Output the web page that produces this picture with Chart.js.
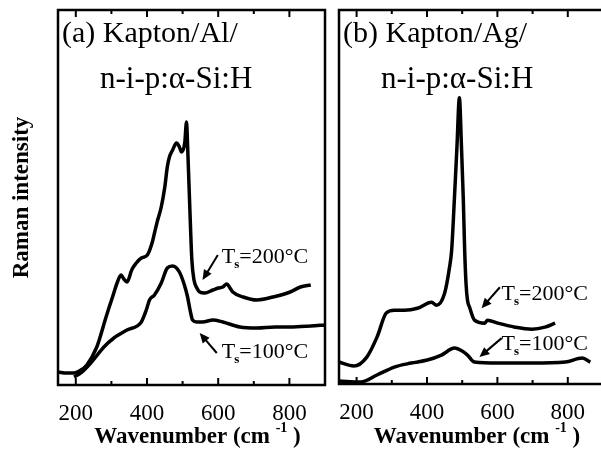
<!DOCTYPE html>
<html>
<head>
<meta charset="utf-8">
<script src="https://cdn.jsdelivr.net/npm/chart.js@4"></script>
<style>
  html, body { margin: 0; padding: 0; background: #fff; overflow: hidden; }
  #wrap { position: relative; width: 601px; height: 456px; overflow: hidden; background: #fff; }
  #ca { position: absolute; left: 0; top: 0; }
  #cb { position: absolute; left: 330px; top: 0; }
</style>
</head>
<body>
<div id="wrap">
  <canvas id="ca" width="335" height="456"></canvas>
  <canvas id="cb" width="280" height="456"></canvas>
</div>
<script>
/* ── Data (arbitrary intensity units) ── */
const WAVE_A200 = [150, 175, 195, 210, 231, 259, 285, 293, 305, 316, 327, 335, 344, 357, 370, 384, 401, 415, 421, 430, 440, 450, 457, 463, 472, 483, 491, 497, 506, 511, 514, 518, 522, 526, 532, 540, 548, 562, 585, 600, 613, 624, 635, 641, 670, 709, 754, 802, 831, 860];
const INT_A200  = [13, 12, 12, 14, 20, 38, 68, 77, 90, 102, 110, 106, 103, 115, 122, 127, 130, 143, 152, 165, 178, 198, 218, 228, 235, 242, 238, 233, 242, 263, 240, 200, 160, 125, 105, 97, 93, 92, 95, 97, 98, 101, 96, 93, 88, 85, 88, 93, 98, 100];

const WAVE_A100 = [195, 214, 242, 279, 307, 344, 384, 398, 407, 421, 440, 457, 472, 491, 505, 514, 521, 528, 540, 556, 585, 613, 661, 709, 760, 802, 860, 900];
const INT_A100  = [8, 12, 22, 38, 47, 55, 63, 75, 85, 90, 102, 117, 119, 113, 100, 88, 75, 65, 63, 63, 65, 63, 58, 57, 58, 58, 59, 60];

const WAVE_B200 = [150, 192, 229, 258, 284, 307, 336, 373, 413, 427, 450, 464, 470, 478, 485, 492, 498, 503, 507, 511, 515, 521, 535, 564, 572, 601, 650, 698, 735, 764];
const INT_B200  = [22, 18, 27, 47, 71, 74, 74, 76, 82, 79, 91, 117, 134, 187, 237, 287, 237, 187, 134, 100, 84, 77, 64, 61, 64, 61, 57, 55, 57, 61];

const WAVE_B100 = [150, 212, 258, 307, 355, 401, 441, 478, 500, 515, 535, 601, 698, 793, 841, 864];
const INT_B100  = [3, 2, 9, 17, 21, 24, 29, 36, 33, 29, 22, 21, 21, 22, 26, 22];

const X_MIN = 150, X_MAX = 900, X_STEP = 100;
const Y_MIN = 0, Y_MAX = 375;

const SERIF = '"Liberation Serif", "DejaVu Serif", serif';

/* ── Helpers ── */
const zip = (xs, ys) => xs.map((x, i) => ({ x, y: ys[i] }));

function series(xs, ys) {
  return {
    data: zip(xs, ys),
    borderColor: '#000',
    borderWidth: 3.5,
    pointRadius: 0,
    fill: false,
    cubicInterpolationMode: 'monotone',
  };
}

function arrow(ctx, x1, y1, x2, y2) {
  const ang = Math.atan2(y2 - y1, x2 - x1);
  const hl = 10, hw = 4.5;
  ctx.beginPath();
  ctx.moveTo(x1, y1);
  ctx.lineTo(x2 - Math.cos(ang) * hl * 0.8, y2 - Math.sin(ang) * hl * 0.8);
  ctx.stroke();
  ctx.beginPath();
  ctx.moveTo(x2, y2);
  ctx.lineTo(x2 - Math.cos(ang) * hl + Math.sin(ang) * hw, y2 - Math.sin(ang) * hl - Math.cos(ang) * hw);
  ctx.lineTo(x2 - Math.cos(ang) * hl - Math.sin(ang) * hw, y2 - Math.sin(ang) * hl + Math.cos(ang) * hw);
  ctx.closePath();
  ctx.fill();
}

/* ── Frame, inward ticks, labels, notes ── */
const panelDecor = {
  id: 'panelDecor',
  afterDraw(chart, args, opts) {
    const { ctx, chartArea: a, scales: { x, y } } = chart;
    ctx.save();
    ctx.strokeStyle = '#000';
    ctx.fillStyle = '#000';

    // frame
    ctx.lineWidth = 2.5;
    ctx.strokeRect(a.left, a.top, a.right - a.left, a.bottom - a.top);

    // inward ticks
    ctx.lineWidth = 2;
    x.ticks.forEach(t => {
      const px = x.getPixelForValue(t.value);
      const len = t.value % 200 === 0 ? 7 : 4;
      ctx.beginPath();
      ctx.moveTo(px, a.bottom); ctx.lineTo(px, a.bottom - len);
      ctx.moveTo(px, a.top);    ctx.lineTo(px, a.top + len);
      ctx.stroke();
    });

    // panel label
    ctx.textBaseline = 'alphabetic';
    ctx.textAlign = 'left';
    ctx.font = '30px ' + SERIF;
    ctx.fillText(opts.label1, a.left + 4, a.top + 32);
    ctx.font = '31px ' + SERIF;
    ctx.fillText(opts.label2, a.left + 42, a.top + 78);

    // x title with superscript
    const cx = (a.left + a.right) / 2 + 6;
    const by = 443;
    const p1 = 'Wavenumber (cm ', p3 = ' )';
    ctx.font = 'bold 14px ' + SERIF;
    const w2 = ctx.measureText('-1').width;
    ctx.font = 'bold 23px ' + SERIF;
    const w1 = ctx.measureText(p1).width, w3 = ctx.measureText(p3).width;
    let sx = cx - (w1 + w2 + w3) / 2;
    ctx.fillText(p1, sx, by); sx += w1;
    ctx.font = 'bold 14px ' + SERIF;
    ctx.fillText('-1', sx, by - 11); sx += w2;
    ctx.font = 'bold 23px ' + SERIF;
    ctx.fillText(p3, sx, by);

    // temperature notes with arrows
    ctx.lineWidth = 2;
    opts.notes.forEach(n => {
      let tx = x.getPixelForValue(n.x), ty = y.getPixelForValue(n.y);
      ctx.font = '22px ' + SERIF;
      ctx.fillText('T', tx, ty); tx += ctx.measureText('T').width;
      ctx.font = 'bold 13px ' + SERIF;
      ctx.fillText('s', tx - 1, ty + 5); tx += ctx.measureText('s').width - 1;
      ctx.font = '22px ' + SERIF;
      ctx.fillText(n.text, tx, ty);
      arrow(ctx,
        x.getPixelForValue(n.ax1), y.getPixelForValue(n.ay1),
        x.getPixelForValue(n.ax2), y.getPixelForValue(n.ay2));
    });

    ctx.restore();
  },
};

function makeChart(canvas, sets, cfg) {
  return new Chart(canvas, {
    type: 'line',
    data: { datasets: sets },
    options: {
      responsive: false,
      animation: false,
      layout: { padding: { top: 10, right: cfg.padRight, left: 0, bottom: 0 } },
      scales: {
        x: {
          type: 'linear', min: X_MIN, max: X_MAX,
          grid: { display: false, drawTicks: true, tickLength: 15 },
          border: { display: false },
          ticks: {
            stepSize: X_STEP, includeBounds: false, autoSkip: false, maxRotation: 0,
            padding: 0, color: '#000', font: { family: SERIF, size: 23 },
            callback: v => (v % 200 === 0 ? v : ''),
          },
          afterFit: s => { s.height = cfg.xHeight; },
        },
        y: {
          min: Y_MIN, max: Y_MAX,
          grid: { display: false, drawTicks: false },
          border: { display: false },
          ticks: { display: false },
          title: {
            display: !!cfg.yTitle, text: cfg.yTitle || '', color: '#000',
            font: { family: SERIF, size: 23, weight: 'bold' }, padding: { top: 8, bottom: 0 },
          },
          afterFit: s => { s.width = cfg.yWidth; },
        },
      },
      plugins: {
        legend: { display: false },
        tooltip: { enabled: false },
        panelDecor: { label1: cfg.label1, label2: cfg.label2, notes: cfg.notes },
      },
    },
    plugins: [panelDecor],
  });
}

makeChart(document.getElementById('ca'),
  [series(WAVE_A200, INT_A200), series(WAVE_A100, INT_A100)],
  {
    yWidth: 58, xHeight: 71, padRight: 10, yTitle: 'Raman intensity',
    label1: '(a) Kapton/Al/', label2: 'n-i-p:\u03b1-Si:H',
    notes: [
      { text: '=200\u00b0C', x: 610, y: 122, ax1: 599, ay1: 130, ax2: 556, ay2: 105 },
      { text: '=100\u00b0C', x: 610, y: 27,  ax1: 596, ay1: 32,  ax2: 548, ay2: 52 },
    ],
  });

makeChart(document.getElementById('cb'),
  [series(WAVE_B200, INT_B200), series(WAVE_B100, INT_B100)],
  {
    yWidth: 9, xHeight: 72, padRight: 7, yTitle: '',
    label1: '(b) Kapton/Ag/', label2: 'n-i-p:\u03b1-Si:H',
    notes: [
      { text: '=200\u00b0C', x: 612, y: 84, ax1: 607, ay1: 97, ax2: 555, ay2: 76 },
      { text: '=100\u00b0C', x: 612, y: 34, ax1: 612, ay1: 46, ax2: 549, ay2: 27 },
    ],
  });
</script>
</body>
</html>
